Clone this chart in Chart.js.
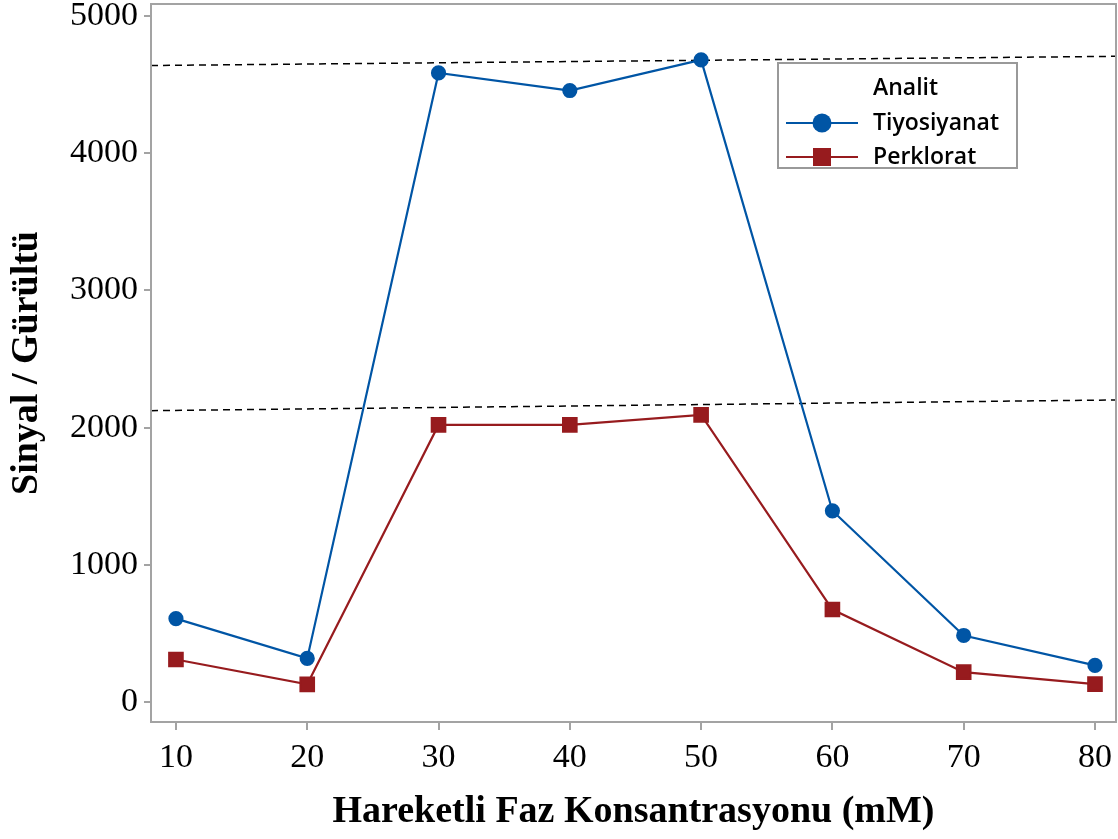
<!DOCTYPE html>
<html>
<head>
<meta charset="utf-8">
<script src="https://cdn.jsdelivr.net/npm/chart.js@4.4.1/dist/chart.umd.min.js"></script>
<style>
  html, body { margin: 0; padding: 0; background: #fff; }
  #wrap { width: 1118px; height: 839px; position: relative; }
</style>
</head>
<body>
<div id="wrap"><canvas id="lineChart"></canvas></div>
<script>
// values
const concentrations = [10, 20, 30, 40, 50, 60, 70, 80];
const thiocyanate = [610, 320, 4583, 4455, 4678, 1395, 487, 269];
const perchlorate = [312, 131, 2020, 2020, 2093, 676, 220, 133];
const yTicks = [0, 1000, 2000, 3000, 4000, 5000];

// the two dashed reference lines (ends at left / right edge of the plot)
const refLineX = [8.1, 81.6];
const upperRef = [4637, 4704];
const lowerRef = [2124, 2202];

const legendTitle = 'Analit';
const seriesNames = ['Tiyosiyanat', 'Perklorat'];

const blue = '#0055a5';
const red = '#971b1e';
const axisGray = '#a3a3a3';

const toPoints = (xs, ys) => xs.map((x, i) => ({ x: x, y: ys[i] }));

// frame round the plot + the boxed legend
const framePlugin = {
    id: 'frame',
    afterDraw(chart) {
        const { ctx, chartArea } = chart;
        ctx.save();
        ctx.strokeStyle = axisGray;
        ctx.lineWidth = 2;
        ctx.strokeRect(chartArea.left, chartArea.top, chartArea.right - chartArea.left, chartArea.bottom - chartArea.top);

        // legend box
        const bx = 778, by = 63, bw = 239, bh = 105;
        ctx.fillStyle = '#fff';
        ctx.fillRect(bx, by, bw, bh);
        ctx.strokeStyle = '#999';
        ctx.strokeRect(bx, by, bw, bh);

        ctx.fillStyle = '#000';
        ctx.font = '600 23px "Open Sans"';
        ctx.textBaseline = 'middle';
        ctx.fillText(legendTitle, 873, 88);

        const rows = [123, 157];
        const colors = [blue, red];
        rows.forEach((ry, i) => {
            ctx.strokeStyle = colors[i];
            ctx.lineWidth = 2;
            ctx.beginPath();
            ctx.moveTo(786, ry);
            ctx.lineTo(858, ry);
            ctx.stroke();
            ctx.fillStyle = colors[i];
            if (i === 0) {
                ctx.beginPath();
                ctx.arc(822, ry, 9.5, 0, Math.PI * 2);
                ctx.fill();
            } else {
                ctx.fillRect(813, ry - 9, 18, 18);
            }
            ctx.fillStyle = '#000';
            ctx.fillText(seriesNames[i], 873, ry);
        });
        ctx.restore();
    }
};

const config = {
    type: 'line',
    data: {
        datasets: [{
            label: seriesNames[0],
            data: toPoints(concentrations, thiocyanate),
            borderColor: blue,
            backgroundColor: blue,
            borderWidth: 2.2,
            pointStyle: 'circle',
            pointRadius: 6.5,
            tension: 0
        }, {
            label: seriesNames[1],
            data: toPoints(concentrations, perchlorate),
            borderColor: red,
            backgroundColor: red,
            borderWidth: 2.2,
            pointStyle: 'rect',
            pointRadius: 9.5,
            tension: 0
        }, {
            label: 'ref1',
            data: toPoints(refLineX, upperRef),
            borderColor: '#000',
            borderWidth: 1.5,
            borderDash: [7, 5],
            pointRadius: 0
        }, {
            label: 'ref2',
            data: toPoints(refLineX, lowerRef),
            borderColor: '#000',
            borderWidth: 1.5,
            borderDash: [7, 5],
            pointRadius: 0
        }]
    },
    options: {
        responsive: true,
        maintainAspectRatio: false,
        animation: false,
        layout: { autoPadding: false, padding: { top: 4, right: 2, left: 0, bottom: 0 } },
        plugins: {
            legend: { display: false },
            tooltip: { enabled: false }
        },
        scales: {
            x: {
                type: 'linear',
                min: 8.1,
                max: 81.6,
                afterBuildTicks: axis => { axis.ticks = concentrations.map(v => ({ value: v })); },
                afterFit: axis => {
                    axis.height = 117;
                    axis.paddingLeft = 0;
                    axis.paddingRight = 0;
                },
                border: { color: axisGray, width: 2 },
                grid: { drawOnChartArea: false, drawTicks: true, tickLength: 8, color: axisGray, lineWidth: 2 },
                ticks: {
                    color: '#000',
                    padding: 8,
                    maxRotation: 0,
                    font: { family: '"Liberation Serif"', size: 34 }
                },
                title: {
                    display: true,
                    text: 'Hareketli Faz Konsantrasyonu (mM)',
                    color: '#000',
                    padding: { top: 12 },
                    font: { family: '"Liberation Serif"', size: 38, weight: 'bold' }
                }
            },
            y: {
                min: -143,
                max: 5085,
                afterBuildTicks: axis => { axis.ticks = yTicks.map(v => ({ value: v })); },
                afterFit: axis => {
                    axis.width = 151;
                    axis.paddingTop = 0;
                    axis.paddingBottom = 0;
                },
                border: { color: axisGray, width: 2 },
                grid: { drawOnChartArea: false, drawTicks: true, tickLength: 7, color: axisGray, lineWidth: 2 },
                ticks: {
                    color: '#000',
                    padding: 6,
                    callback: v => String(v),
                    font: { family: '"Liberation Serif"', size: 34 }
                },
                title: {
                    display: true,
                    text: 'Sinyal / Gürültü',
                    color: '#000',
                    padding: { bottom: 2 },
                    font: { family: '"Liberation Serif"', size: 38, weight: 'bold' }
                }
            }
        }
    },
    plugins: [framePlugin]
};

let lineChart = new Chart(document.getElementById('lineChart'), config);
</script>
</body>
</html>
